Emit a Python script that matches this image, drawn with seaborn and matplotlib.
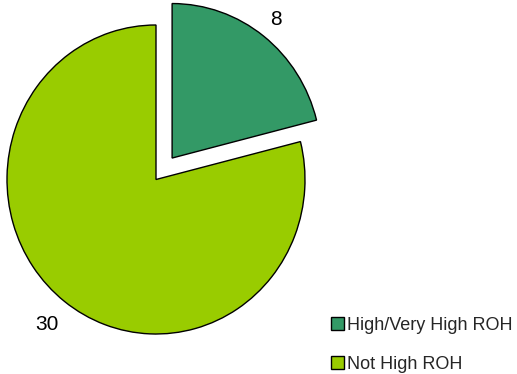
import matplotlib
matplotlib.use("Agg")
import matplotlib.pyplot as plt
import seaborn as sns

sns.set_theme(style="white")
plt.rcParams['font.family'] = ['Liberation Sans', 'DejaVu Sans']

categories = ["High/Very High ROH", "Not High ROH"]
values = [8, 30]
colors = ["#339966", "#99CC00"]

fig = plt.figure(figsize=(5.17, 3.74), dpi=100)
ax = fig.add_axes([0, 0, 1, 1])

wedges, texts = ax.pie(values, colors=colors, startangle=90, counterclock=False,
                       explode=[0.176, 0], labels=[str(v) for v in values],
                       labeldistance=1.14,
                       wedgeprops=dict(edgecolor="black", linewidth=1),
                       textprops=dict(fontsize=15, color="black"))
for t in texts:
    t.set_horizontalalignment("center")
# the "30" label sits a bit further out
x, y = texts[1].get_position()
texts[1].set_position((x * 1.19 / 1.14, y * 1.19 / 1.14))

# the original pie is slightly taller than wide: 149 px per x unit, 154.5 px per y unit
ax.set_aspect("auto")
ax.set_xlim(-156 / 149, (517 - 156) / 149)
ax.set_ylim(-194.5 / 154.5, 179.5 / 154.5)
ax.axis("off")

leg = ax.legend(wedges, categories, loc="lower left", bbox_to_anchor=(0.609, -0.04),
                frameon=False, fontsize=13, handlelength=0.7, handleheight=0.7,
                handletextpad=0.2, labelspacing=1.2)

fig.savefig("out.png", dpi=100)
